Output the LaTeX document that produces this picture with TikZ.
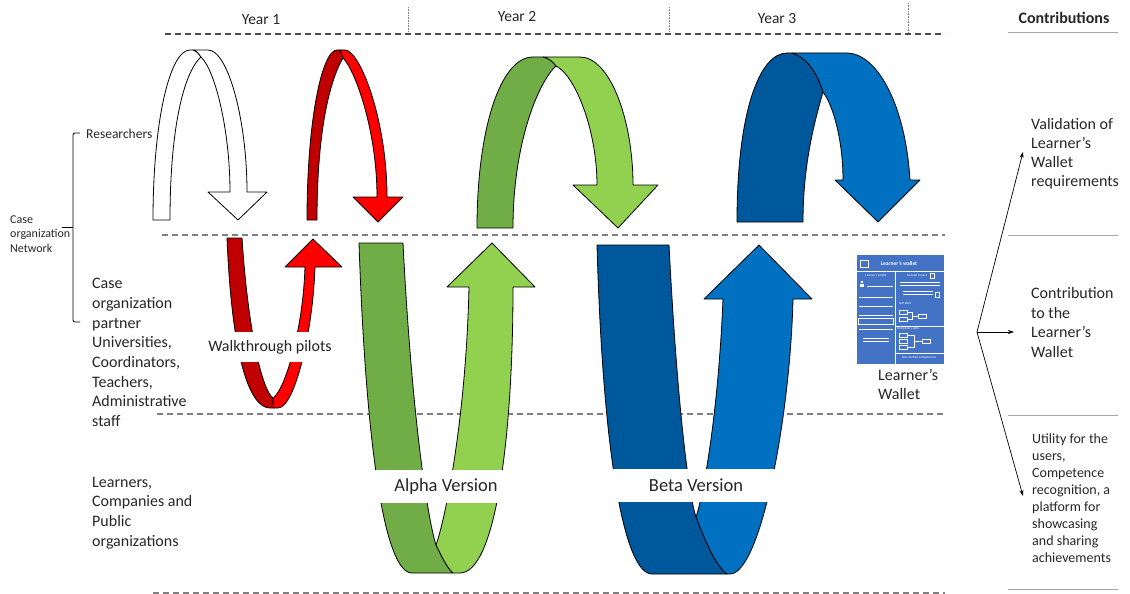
\documentclass[tikz,border=0pt]{standalone}
\usepackage{fontspec}
\setmainfont{Carlito}
\usetikzlibrary{arrows.meta}

\definecolor{redA}{RGB}{192,0,0}
\definecolor{redB}{RGB}{255,0,0}
\definecolor{greenA}{RGB}{112,173,71}
\definecolor{greenB}{RGB}{146,208,80}
\definecolor{blueA}{RGB}{0,88,156}
\definecolor{blueB}{RGB}{0,112,192}
\definecolor{walletblue}{RGB}{68,114,196}
\definecolor{txt}{RGB}{38,38,38}

\begin{document}
\begin{tikzpicture}[x=1pt,y=-1pt]
        \tikzstyle{every node}+=[inner sep=0pt, text=txt]
        \tikzstyle{band}=[draw=black, line width=0.8pt, line join=round]
        \tikzstyle{lane}=[gray, line width=2pt, dash pattern=on 6pt off 4pt]
        \tikzstyle{rule}=[gray!70, line width=1pt]
        \tikzstyle{sep}=[gray, line width=0.6pt, densely dotted]
        \tikzstyle{lbl}=[anchor=west, align=left, font=\fontsize{16}{19.7}\selectfont]
        \tikzstyle{small}=[anchor=west, align=left, font=\fontsize{12}{14.5}\selectfont]
        \tikzstyle{cut}=[fill=white, font=\fontsize{18.5}{22}\selectfont]
        \tikzstyle{contrib}=[-{Stealth[length=6pt,width=4pt]}, black, line width=0.7pt]
        \tikzstyle{ui}=[white, line width=0.4pt]
        \tikzstyle{uitext}=[text=white, font=\fontsize{3.2}{3.6}\selectfont]
        \useasboundingbox (0,0) rectangle (1130,594);

        % header and lanes
        \node (year1) at (261,20) {\fontsize{15.5}{18}\selectfont Year 1};
        \node (year2) at (517,17) {\fontsize{15.5}{18}\selectfont Year 2};
        \node (year3) at (777,19) {\fontsize{15.5}{18}\selectfont Year 3};
        \node (contrib) at (1064,18) {\fontsize{16}{19}\selectfont\bfseries Contributions};
        \draw [sep] (408,7) -- (408,33);
        \draw [sep] (669,7) -- (669,33);
        \draw [sep] (908,3) -- (908,33);
        \draw [lane, black!70] (165,34) -- (945,34);
        \draw [lane] (162,235) -- (945,235);
        \draw [lane] (157,414) -- (945,414);
        \draw [lane] (153,593) -- (945,593);
        \draw [rule] (1008,33) -- (1118,33);
        \draw [rule] (1008,235) -- (1118,235);
        \draw [rule] (1008,415) -- (1118,415);
        \draw [rule] (1008,589) -- (1118,589);

        % actors
        \node [small, font=\fontsize{13.5}{16}\selectfont] (researchers) at (86,134) {Researchers};
        \node [small] (network) at (10,234) {Case\\organization\\Network};
        \node [lbl] (partners) at (92,352.5) {Case\\organization\\partner\\Universities,\\Coordinators,\\Teachers,\\Administrative\\staff};
        \node [lbl] (learners) at (92,513) {Learners,\\Companies and\\Public\\organizations};
        \draw [black, line width=0.8pt, rounded corners=2pt] (80,133) -- (73,133) -- (73,322) -- (80,322);
        \draw [black, line width=0.8pt] (73,227) -- (62,227);

        % year 1: researchers
        \draw [band, fill=white] (153,220) .. controls (153,120) and (170,50) .. (190,50) -- (193,50)
              .. controls (197,51) and (199,54) .. (201,57) .. controls (186,70) and (170,120) .. (170,220) -- cycle;
        \draw [band, fill=white] (193,50) -- (208,50) .. controls (228,50) and (247,120) .. (247,192)
              -- (267,192) -- (238,220) -- (208,192) -- (230,192) .. controls (230,130) and (215,70) .. (201,57)
              .. controls (199,54) and (197,51) .. (193,50) -- cycle;
        \draw [band, fill=redA] (307,220) .. controls (307,120) and (322,50) .. (337,50) -- (340,50)
              .. controls (341,52) and (342,55) .. (343,58) .. controls (330,80) and (317,130) .. (317,220) -- cycle;
        \draw [band, fill=redB] (340,50) -- (345,50) .. controls (360,50) and (387,120) .. (387,197)
              -- (403,197) -- (378,222) -- (353,197) -- (377,197) .. controls (377,130) and (355,70) .. (343,58)
              .. controls (342,55) and (341,52) .. (340,50) -- cycle;

        % year 1: walkthrough pilots
        \draw [band, fill=redA] (227,238) -- (242,238) .. controls (248,330) and (262,390) .. (273,398)
              .. controls (273,402) and (273,405) .. (274,408) -- (270,408) .. controls (250,408) and (232,360) .. (227,238) -- cycle;
        \draw [band, fill=redB] (274,408) -- (278,408) .. controls (295,408) and (313,330) .. (315,267)
              -- (342,267) -- (313,239) -- (285,267) -- (305,267) .. controls (303,330) and (285,390) .. (273,398)
              .. controls (273,402) and (273,405) .. (274,408) -- cycle;
        \node [fill=white, minimum height=30pt, font=\fontsize{16}{19}\selectfont] (walk) at (270,347) {Walkthrough pilots};

        % year 2
        \draw [band, fill=greenA] (477,228) .. controls (477,130) and (500,57) .. (533,57) -- (543,57)
              .. controls (549,58) and (553,62) .. (556,66) .. controls (540,80) and (513,140) .. (513,228) -- cycle;
        \draw [band, fill=greenB] (543,57) -- (580,57) .. controls (610,57) and (633,120) .. (633,185)
              -- (658,185) -- (618,228) -- (573,185) -- (597,185) .. controls (597,130) and (575,75) .. (556,66)
              .. controls (553,62) and (549,58) .. (543,57) -- cycle;
        \draw [band, fill=greenA] (359,243) -- (403,243) .. controls (412,420) and (428,520) .. (436,545)
              .. controls (441,555) and (447,568) .. (453,573) -- (412,573) .. controls (385,573) and (366,450) .. (359,243) -- cycle;
        \draw [band, fill=greenB] (453,573) -- (460,573) .. controls (495,573) and (513,440) .. (513,287)
              -- (535,287) -- (492,243) -- (447,287) -- (469,287) .. controls (466,420) and (445,520) .. (436,545)
              .. controls (441,555) and (447,568) .. (453,573) -- cycle;
        \node [cut, minimum width=142pt, minimum height=33pt] (alpha) at (446,486.5) {Alpha Version};

        % year 3
        \draw [band, fill=blueA] (737,222) .. controls (737,110) and (760,53) .. (787,53) -- (792,53)
              .. controls (808,58) and (818,75) .. (823,92) .. controls (812,130) and (803,170) .. (803,222) -- cycle;
        \draw [band, fill=blueB] (792,53) -- (847,53) .. controls (875,53) and (905,100) .. (910,180)
              -- (920,180) -- (878,222) -- (835,180) -- (843,180) .. controls (843,140) and (833,105) .. (823,92)
              .. controls (818,75) and (808,58) .. (792,53) -- cycle;
        \draw [band, fill=blueA] (597,245) -- (669,245) .. controls (678,420) and (690,500) .. (696,517)
              .. controls (705,540) and (715,565) .. (727,574) -- (652,574) .. controls (625,574) and (603,460) .. (597,245) -- cycle;
        \draw [band, fill=blueB] (727,574) -- (730,574) .. controls (760,574) and (790,420) .. (793,299)
              -- (812,299) -- (759,245) -- (704,299) -- (723,299) .. controls (718,420) and (702,500) .. (696,517)
              .. controls (705,540) and (715,565) .. (727,574) -- cycle;
        \node [cut, minimum width=172pt, minimum height=33pt] (beta) at (696,485) {Beta Version};

        % learner's wallet
        \fill [walletblue] (857,255) rectangle (944,364);
        \node (wallet) at (900.5,309.5) [minimum width=87pt, minimum height=109pt] {};
        \draw [ui, line width=0.6pt] (860,260) rectangle (868,267);
        \node [text=white, font=\fontsize{5.5}{6}\selectfont\bfseries] at (899,263.5) {Learner's wallet};
        \draw [ui] (857,271) -- (944,271);
        \draw [ui] (895,271) -- (895,364);
        \node [uitext] at (876,275.5) {Learner's profile};
        \fill [white] (862,282) circle (1.3pt);
        \fill [white] (860,284) rectangle (864,287);
        \draw [ui] (867,286) -- (893,286);
        \draw [ui] (859,297) -- (893,297);
        \draw [ui] (859,306) -- (893,306);
        \draw [ui] (859,315) -- (893,315);
        \draw [ui] (858,318) rectangle (893,324);
        \draw [ui] (859,329) -- (893,329);
        \draw [ui] (863,338) -- (889,338);
        \draw [ui] (863,341) -- (889,341);
        \node [uitext] at (917,276) {Societal impact};
        \draw [ui] (930,273) rectangle (934,278);
        \draw [ui] (900,282) -- (940,282);
        \draw [ui] (900,285) -- (940,285);
        \draw [ui] (903,291) -- (933,291);
        \draw [ui] (903,294) -- (933,294);
        \draw [ui] (935,292) rectangle (939,297);
        \node [uitext] at (905,303) {Soft skills};
        \draw [ui] (899,310) rectangle (907,314);
        \draw [ui] (899,317) rectangle (907,321);
        \draw [ui] (907,312) -- (912,312) -- (912,319) -- (907,319);
        \draw [ui] (912,316) -- (918,316);
        \draw [ui] (918,314) rectangle (926,318);
        \draw [ui] (896,326) -- (944,326);
        \node [uitext] at (908,329) {Disciplinary skills};
        \draw [ui] (899,333) rectangle (907,337);
        \draw [ui] (899,339) rectangle (907,343);
        \draw [ui] (899,345) rectangle (907,349);
        \draw [ui] (907,335) -- (914,335) -- (914,347) -- (907,347);
        \draw [ui] (914,341) -- (922,341);
        \draw [ui] (922,339) rectangle (930,343);
        \draw [ui] (896,353) -- (944,353);
        \node [uitext] at (919,358) {Non-verified competences};
        \node [lbl] (walletlbl) at (878,384.5) {Learner's\\Wallet};

        % contributions
        \node [lbl, font=\fontsize{16}{19}\selectfont] (valid) at (1031,153.5) {Validation of\\Learner's\\Wallet\\requirements};
        \node [lbl] (contribto) at (1031,322.5) {Contribution\\to the\\Learner's\\Wallet};
        \node [lbl, font=\fontsize{14}{17}\selectfont] (utility) at (1032,498.5) {Utility for the\\users,\\Competence\\recognition, a\\platform for\\showcasing\\and sharing\\achievements};
        \coordinate (fork) at (977,332);
        \coordinate (tipA) at (1023,152);
        \coordinate (tipB) at (1014,332);
        \coordinate (tipC) at (1023,496);
        \draw [contrib] (fork) -- (tipA);
        \draw [contrib] (fork) -- (tipB);
        \draw [contrib] (fork) -- (tipC);
\end{tikzpicture}
\end{document}
